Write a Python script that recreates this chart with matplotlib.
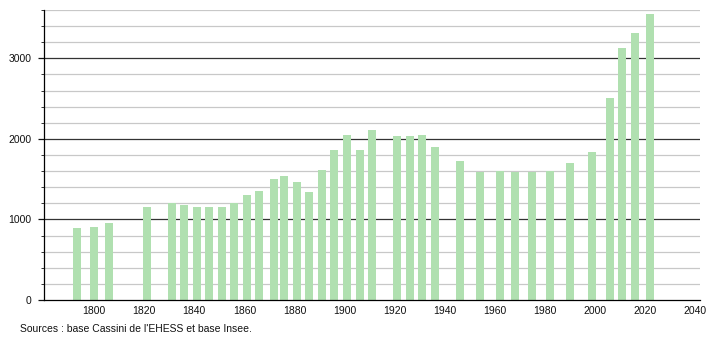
import matplotlib
matplotlib.use("Agg")
import matplotlib.pyplot as plt
from matplotlib.ticker import MultipleLocator

# ==========================================
# DATA
# ==========================================

years = [1793, 1800, 1806, 1821, 1831, 1836, 1841, 1846, 1851, 1856,
         1861, 1866, 1872, 1876, 1881, 1886, 1891, 1896, 1901, 1906,
         1911, 1921, 1926, 1931, 1936, 1946, 1954, 1962, 1968, 1975,
         1982, 1990, 1999, 2006, 2011, 2016, 2022]

population = [900, 905, 950, 1155, 1205, 1175, 1152, 1160, 1157, 1208,
              1305, 1357, 1503, 1544, 1461, 1337, 1619, 1868, 2051, 1868,
              2105, 2030, 2030, 2046, 1901, 1731, 1590, 1606, 1590, 1590,
              1606, 1697, 1834, 2503, 3130, 3317, 3545]

x_ticks = [1800, 1820, 1840, 1860, 1880, 1900, 1920, 1940, 1960, 1980, 2000, 2020, 2040]
y_ticks = [0, 1000, 2000, 3000]

source_text = "Sources : base Cassini de l'EHESS et base Insee."

# ==========================================
# PLOT
# ==========================================

plt.rcParams['font.family'] = ['Liberation Sans', 'DejaVu Sans']

fig = plt.figure(figsize=(7.1, 3.4), dpi=100)
ax = fig.add_axes([0.062, 0.1176, 0.924, 0.853])

ax.set_xlim(1780, 2042)
ax.set_ylim(0, 3600)

# grid: light every 200, dark every 1000
for v in range(200, 3601, 200):
    if v % 1000 == 0:
        ax.axhline(v, color='#333333', linewidth=0.9, zorder=1)
    else:
        ax.axhline(v, color='#c8c8c8', linewidth=0.9, zorder=1)

ax.bar(years, population, width=3.2, color='#b0e0b0', edgecolor='none', zorder=2)

ax.set_xticks(x_ticks)
ax.set_yticks(y_ticks)
ax.yaxis.set_minor_locator(MultipleLocator(200))

ax.tick_params(axis='x', length=0, pad=4, labelsize=7.5, colors='#111111')
ax.tick_params(axis='y', which='major', length=4, width=0.9, pad=5, labelsize=7.5, colors='#111111')
ax.tick_params(axis='y', which='minor', length=2, width=0.7, color='#333333')

for side in ['top', 'right']:
    ax.spines[side].set_visible(False)
ax.spines['left'].set_linewidth(0.9)
ax.spines['bottom'].set_linewidth(0.9)

fig.text(20 / 710, 1 - 329 / 340, source_text, fontsize=7.5, color='#111111',
         ha='left', va='center')

fig.savefig("out.png", dpi=100)
